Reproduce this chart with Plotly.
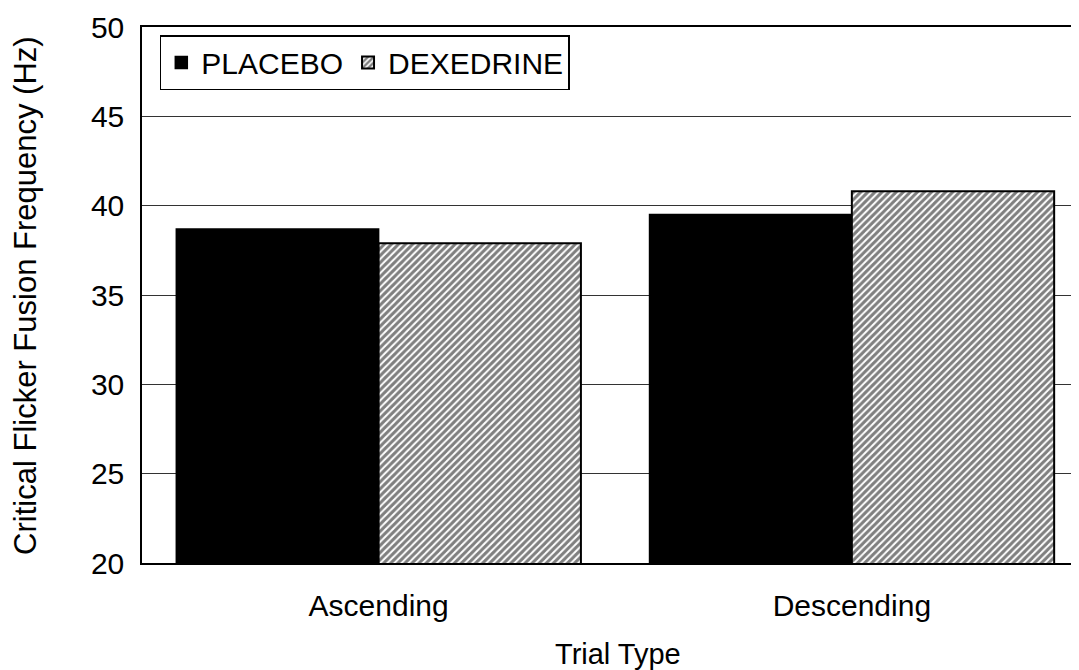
import plotly.graph_objects as go

categories = ["Ascending", "Descending"]
placebo = [38.7, 39.5]
dexedrine = [37.9, 40.8]
series_names = ["PLACEBO", "DEXEDRINE"]
y_ticks = [20, 25, 30, 35, 40, 45, 50]
x_title = "Trial Type"
y_title = "Critical Flicker Fusion Frequency (Hz)"

FONT = "Liberation Sans, Arial, Helvetica, sans-serif"

fig = go.Figure()
fig.add_trace(go.Bar(
    x=categories, y=placebo, name=series_names[0],
    marker=dict(color="black", line=dict(color="black", width=1.5)),
))
fig.add_trace(go.Bar(
    x=categories, y=dexedrine, name=series_names[1],
    marker=dict(color="white", line=dict(color="black", width=2),
                pattern=dict(shape="/", fgcolor="black", bgcolor="white",
                             size=5, solidity=0.6)),
))

# page body has an 8px margin: figure is sized/offset to compensate
fig.update_layout(
    width=1071, height=662,
    margin=dict(l=134, r=0, t=19, b=107),
    paper_bgcolor="white", plot_bgcolor="white",
    barmode="group", bargap=0.145, bargroupgap=0,
    font=dict(family=FONT, color="black"),
    showlegend=True,
    legend=dict(
        orientation="h", x=0.019, y=0.985, xanchor="left", yanchor="top",
        bgcolor="white", bordercolor="black", borderwidth=1.5,
        font=dict(size=30, family=FONT, color="black"),
        itemwidth=30, traceorder="normal",
    ),
    annotations=[
        dict(text=x_title, xref="paper", yref="paper", x=0.508, y=-0.17,
             xanchor="center", yanchor="middle", showarrow=False,
             font=dict(size=29, family=FONT, color="black")),
        dict(text=y_title, xref="paper", yref="paper", x=-0.125, y=0.5,
             xanchor="center", yanchor="middle", showarrow=False, textangle=-90,
             font=dict(size=31, family=FONT, color="black")),
    ],
)

fig.update_xaxes(
    range=[-0.5, 1.48], showline=True, linecolor="black", linewidth=1.5,
    mirror=True, showgrid=False, ticks="", ticklabelstandoff=15,
    tickfont=dict(size=30, family=FONT, color="black"),
)
fig.update_yaxes(
    range=[20, 50], tickvals=y_ticks, showline=True, linecolor="black",
    linewidth=1.5, mirror=False, showgrid=True, gridcolor="#333333", gridwidth=1,
    ticks="", ticklabelstandoff=10, zeroline=False,
    tickfont=dict(size=30, family=FONT, color="black"),
)

fig.write_html("out.html")
